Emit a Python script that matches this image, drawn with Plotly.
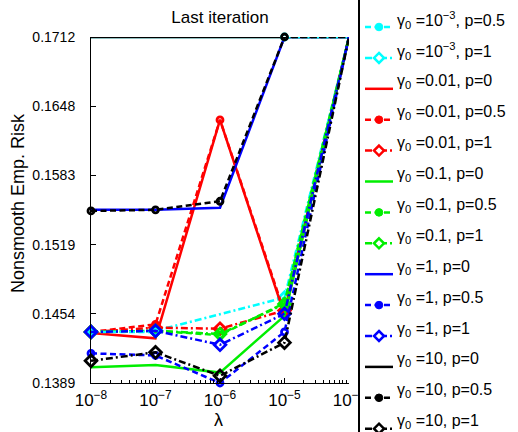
import numpy as np
import plotly.graph_objects as go

# ---------------- data ----------------
lam = [1e-8, 1e-7, 1e-6, 1e-5, 1e-4]
gamma_labels = ["10<sup>−3</sup>", "0.01", "0.1", "1", "10"]
p_labels = ["0", "0.5", "1"]

risk_g1e3_p0 = [0.17124, 0.17124, 0.17124, 0.17124, 0.17124]
risk_g1e3_p05 = [0.1437, 0.1437, None, 0.17124, 0.17124]
risk_g1e3_p1 = [0.1437, 0.1438, None, 0.1469, 0.17124]
risk_g001_p0 = [0.1436, 0.1431, 0.1635, 0.1453, 0.17124]
risk_g001_p05 = [0.1437, 0.1444, 0.1635, 0.1455, 0.17124]
risk_g001_p1 = [0.1437, 0.1441, 0.1440, 0.1457, 0.17124]
risk_g01_p0 = [0.1404, 0.1406, 0.1399, 0.1452, 0.17124]
risk_g01_p05 = [0.1437, 0.1438, 0.1434, 0.1464, 0.17124]
risk_g01_p1 = [0.1437, 0.1438, 0.1435, 0.1463, 0.17124]
risk_g1_p0 = [0.1551, 0.1551, 0.1553, 0.17124, 0.17124]
risk_g1_p05 = [0.1417, 0.1415, 0.13893, 0.1437, 0.17124]
risk_g1_p1 = [0.1437, 0.1438, 0.1425, 0.1454, 0.17124]
risk_g10_p0 = [0.17124, 0.17124, 0.17124, 0.17124, 0.17124]
risk_g10_p05 = [0.1550, 0.1551, 0.1559, 0.17124, 0.17124]
risk_g10_p1 = [0.1410, 0.1418, 0.1396, 0.1427, 0.17124]

series = [
    risk_g1e3_p0, risk_g1e3_p05, risk_g1e3_p1,
    risk_g001_p0, risk_g001_p05, risk_g001_p1,
    risk_g01_p0, risk_g01_p05, risk_g01_p1,
    risk_g1_p0, risk_g1_p05, risk_g1_p1,
    risk_g10_p0, risk_g10_p05, risk_g10_p1,
]
y_tick_labels = ["0.1389", "0.1454", "0.1519", "0.1583", "0.1648", "0.1712"]
x_tick_exps = [-8, -7, -6, -5, -4]
x_tick_labels = ["10<sup>−8</sup>", "10<sup>−7</sup>", "10<sup>−6</sup>", "10<sup>−5</sup>", "10<sup>−4</sup>"]

# ---------------- styles ----------------
W, H = 518, 432
FONT = "Liberation Sans, Arial, Helvetica, sans-serif"
colors = ["#00FFFF", "#FF0000", "#00EE00", "#0000FF", "#000000"]
dash_styles = ["solid", "6px,3.5px", "7px,3px,2px,3px"]
symbols = [None, "circle-open", "diamond-open"]
msizes = [0, 6, 9]
LW = 2.5


def pxx(x):
    return x / W


def pyy(y):
    return 1 - y / H


fig = go.Figure()

# draw order (indices into series)
draw_order = [0, 2, 3, 4, 5, 6, 7, 8, 9, 12, 1, 10, 11, 13, 14]
for idx in draw_order:
    gi, pi = divmod(idx, 3)
    vals = series[idx]
    xs = [l for l, v in zip(lam, vals) if v is not None] if idx == 2 else lam
    ys = [v for v in vals if v is not None] if idx == 2 else vals
    tr = dict(
        x=xs, y=ys, mode="lines" if pi == 0 else "lines+markers",
        line=dict(color=colors[gi], width=LW, dash=dash_styles[pi]),
        showlegend=False, cliponaxis=False, hoverinfo="skip",
        name=f"γ0={gamma_labels[gi]}, p={p_labels[pi]}",
    )
    if pi > 0:
        tr["marker"] = dict(symbol=symbols[pi], size=msizes[pi], color=colors[gi],
                            line=dict(width=2.8, color=colors[gi]))
    fig.add_trace(go.Scatter(**tr))

all_vals = [v for s in series for v in s if v is not None]
ymin, ymax = min(all_vals), max(all_vals)
tickvals_y = list(np.linspace(ymin, ymax, len(y_tick_labels)))

minor_vals = [m * 10.0 ** e for e in range(-8, -4) for m in range(2, 10)]

fig.update_layout(
    width=W, height=H,
    margin=dict(l=0, r=0, t=0, b=0),
    paper_bgcolor="white", plot_bgcolor="white",
    font=dict(family=FONT, color="black", size=14),
    xaxis=dict(
        type="log", range=[-8, -4], domain=[pxx(91), pxx(349)],
        showgrid=False, zeroline=False, showline=True, linecolor="black", linewidth=1,
        ticks="inside", ticklen=5, tickcolor="black",
        tickvals=[10.0 ** e for e in x_tick_exps], ticktext=x_tick_labels,
        tickfont=dict(size=17), automargin=False, ticklabelstandoff=2,
        minor=dict(ticks="inside", ticklen=3, tickcolor="black", tickvals=minor_vals, showgrid=False),
    ),
    yaxis=dict(
        range=[ymin, ymax], domain=[pyy(383), pyy(37)],
        showgrid=False, zeroline=False, showline=True, linecolor="black", linewidth=1,
        ticks="inside", ticklen=5, tickcolor="black",
        tickvals=tickvals_y, ticktext=y_tick_labels,
        tickfont=dict(size=14), automargin=False, ticklabelstandoff=12,
    ),
    title=dict(text="Last iteration", x=pxx(220), y=pyy(17), xanchor="center", yanchor="middle",
               xref="paper", yref="paper", font=dict(size=17, family=FONT)),
)

annotations = [
    dict(text="Nonsmooth Emp. Risk", x=pxx(18), y=pyy(203), xref="paper", yref="paper",
         textangle=-90, showarrow=False, font=dict(size=18, family=FONT), xanchor="center", yanchor="middle"),
    dict(text="λ", x=pxx(218), y=pyy(420), xref="paper", yref="paper",
         showarrow=False, font=dict(size=18, family=FONT), xanchor="center", yanchor="middle"),
]

# ---------------- manual legend (clipped box on the right) ----------------
shapes = [dict(type="rect", xref="paper", yref="paper", x0=pxx(359), x1=1.3, y0=-0.3, y1=1.3,
               line=dict(color="black", width=2), fillcolor="white", layer="above")]

row0, row_step = 27.0, 30.9
for idx in range(len(series)):
    gi, pi = divmod(idx, 3)
    k = idx - 1
    yc = row0 + row_step * k
    if yc < 5:
        continue  # this entry lies above the visible part of the legend box
    c = colors[gi]
    shapes.append(dict(type="line", xref="paper", yref="paper", x0=pxx(365), x1=pxx(393),
                       y0=pyy(yc), y1=pyy(yc), line=dict(color=c, width=LW, dash=dash_styles[pi]),
                       layer="above"))
    cx = 379
    if pi == 1:
        r = 3.8
        shapes.append(dict(type="circle", xref="paper", yref="paper", x0=pxx(cx - r), x1=pxx(cx + r),
                           y0=pyy(yc + r), y1=pyy(yc - r), fillcolor=c, line=dict(color=c, width=1),
                           layer="above"))
    elif pi == 2:
        r = 5.0
        path = (f"M {pxx(cx)},{pyy(yc - r)} L {pxx(cx + r)},{pyy(yc)} "
                f"L {pxx(cx)},{pyy(yc + r)} L {pxx(cx - r)},{pyy(yc)} Z")
        shapes.append(dict(type="path", xref="paper", yref="paper", path=path, fillcolor="white",
                           line=dict(color=c, width=2.5), layer="above"))
    annotations.append(dict(
        text=f"γ<sub>0</sub> ={gamma_labels[gi]}, p={p_labels[pi]}",
        x=pxx(395), y=pyy(yc - 7), xref="paper", yref="paper", showarrow=False,
        xanchor="left", yanchor="middle", font=dict(size=16, family=FONT),
    ))

fig.update_layout(shapes=shapes, annotations=annotations)
fig.write_html("out.html")
